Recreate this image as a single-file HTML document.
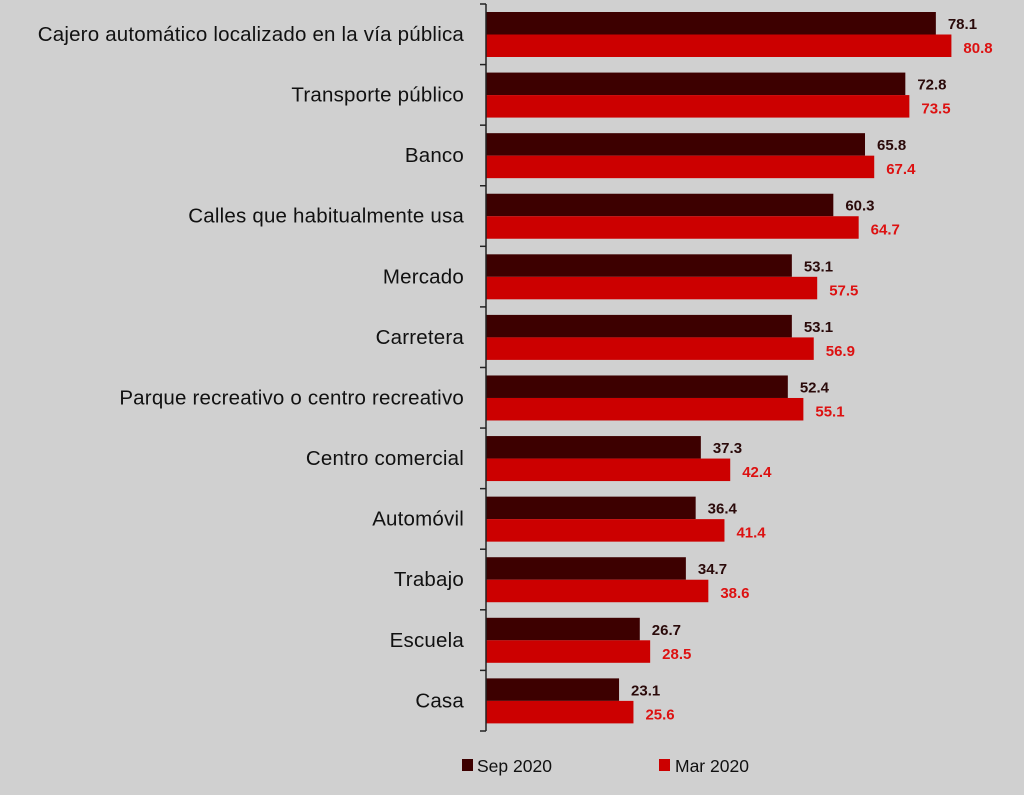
<!DOCTYPE html>
<html><head><meta charset="utf-8"><style>
body{margin:0;background:#d0d0d0;}
svg{display:block;font-family:"Liberation Sans",sans-serif;}
</style></head><body>
<svg width="1024" height="795" viewBox="0 0 1024 795">
<rect width="1024" height="795" fill="#d0d0d0"/>
<g id="c"></g>
<line x1="486" y1="4" x2="486" y2="731" stroke="#222" stroke-width="1.5"/>
<rect x="462" y="759" width="11" height="12" fill="#3d0000"/>
<text x="477" y="772" font-size="17.5" fill="#111">Sep 2020</text>
<rect x="659" y="759" width="11" height="12" fill="#cc0000"/>
<text x="675" y="772" font-size="17.5" fill="#111">Mar 2020</text>
</svg>
<script>
var d=[["Cajero automático localizado en la vía pública",78.1,80.8],["Transporte público",72.8,73.5],["Banco",65.8,67.4],["Calles que habitualmente usa",60.3,64.7],["Mercado",53.1,57.5],["Carretera",53.1,56.9],["Parque recreativo o centro recreativo",52.4,55.1],["Centro comercial",37.3,42.4],["Automóvil",36.4,41.4],["Trabajo",34.7,38.6],["Escuela",26.7,28.5],["Casa",23.1,25.6]];
var g=document.getElementById('c'),s='',k=5.76,r=60.58;
for(var i=0;i<d.length;i++){var y=4+i*r;
s+='<line x1="480" y1="'+y+'" x2="486" y2="'+y+'" stroke="#222" stroke-width="1.5"/>';
s+='<rect x="486" y="'+(y+8)+'" width="'+(d[i][1]*k)+'" height="22.5" fill="#3d0000"/>';
s+='<rect x="486" y="'+(y+30.5)+'" width="'+(d[i][2]*k)+'" height="22.5" fill="#cc0000"/>';
s+='<text x="464" y="'+(y+37)+'" text-anchor="end" font-size="20.5" letter-spacing="0.2" fill="#111">'+d[i][0]+'</text>';
s+='<text x="'+(486+d[i][1]*k+12)+'" y="'+(y+25)+'" font-size="15" font-weight="bold" fill="#2a0a0a">'+d[i][1].toFixed(1)+'</text>';
s+='<text x="'+(486+d[i][2]*k+12)+'" y="'+(y+49)+'" font-size="15" font-weight="bold" fill="#dd1111">'+d[i][2].toFixed(1)+'</text>';}
s+='<line x1="480" y1="731" x2="486" y2="731" stroke="#222" stroke-width="1.5"/>';
g.innerHTML=s;
</script>
</body></html>
